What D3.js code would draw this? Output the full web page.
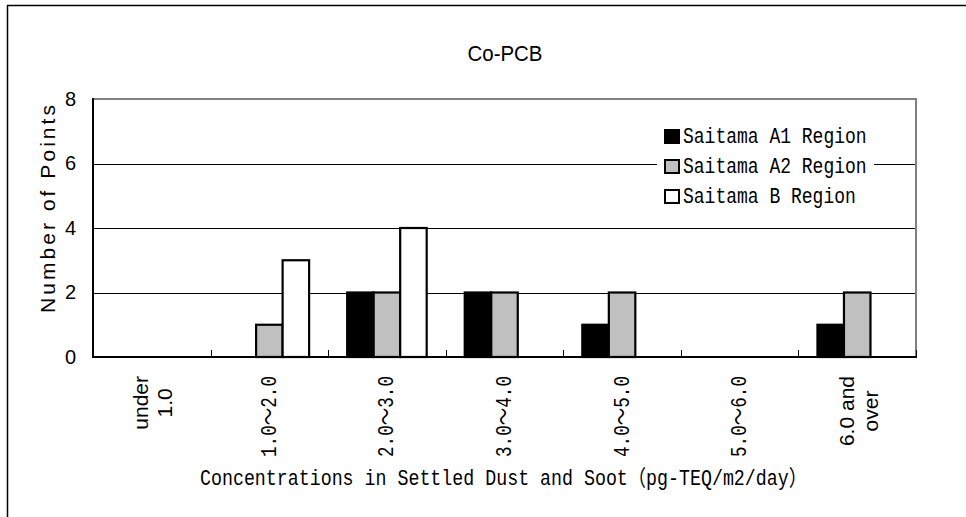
<!DOCTYPE html>
<html>
<head>
<meta charset="utf-8">
<script src="https://cdn.jsdelivr.net/npm/d3@7"></script>
<style>
  html, body { margin: 0; padding: 0; background: #fff; }
  svg { display: block; }
</style>
</head>
<body>
<script>
// ---- data ----
const categories = ["under\n1.0", "1.0～2.0", "2.0～3.0", "3.0～4.0", "4.0～5.0", "5.0～6.0", "6.0 and\nover"];
const seriesNames = ["Saitama A1 Region", "Saitama A2 Region", "Saitama B Region"];
const seriesA1 = [0, 0, 2, 2, 1, 0, 1];
const seriesA2 = [0, 1, 2, 2, 2, 0, 2];
const seriesB  = [0, 3, 4, 0, 0, 0, 0];
const yTicks = [0, 2, 4, 6, 8];
const titleText = "Co-PCB";
const yTitle = "Number of Points";
const xTitle = "Concentrations in Settled Dust and Soot（pg-TEQ/m2/day）";

const seriesValues = [seriesA1, seriesA2, seriesB];
const seriesFill = ["#000000", "#c0c0c0", "#ffffff"];

const W = 966, H = 517;
const L = 93, R = 916, T = 99, B = 357;
const SANS = "Liberation Sans, Arial, 'Noto Sans CJK JP', sans-serif";
const MONO = "Liberation Mono, 'DejaVu Sans Mono', 'Noto Sans CJK JP', monospace";

const svg = d3.select("body").append("svg").attr("width", W).attr("height", H);

// outer frame
svg.append("rect").attr("x", 7.5).attr("y", 5.5).attr("width", 1000).attr("height", 600)
  .attr("fill", "none").attr("stroke", "#000").attr("stroke-width", 1.5);

const x0 = d3.scaleBand().domain(categories).range([L, R]).paddingInner(0).paddingOuter(0);
const x1 = d3.scaleBand().domain(seriesNames).range([0, x0.bandwidth()]).paddingInner(0).paddingOuter(0.718);
const y = d3.scaleLinear().domain([0, 8]).range([B, T]);

// gridlines
svg.append("g").selectAll("line").data(yTicks.filter(d => d > 0 && d < 8)).join("line")
  .attr("x1", L).attr("x2", R).attr("y1", d => Math.round(y(d)) + 0.5).attr("y2", d => Math.round(y(d)) + 0.5)
  .attr("stroke", "#000").attr("stroke-width", 1);

// y axis labels
const yAxis = d3.axisLeft(y).tickValues(yTicks).tickSize(0).tickPadding(17).tickFormat(d3.format("d"));
const yg = svg.append("g").attr("transform", `translate(${L},0)`).call(yAxis);
yg.select(".domain").remove();
yg.selectAll("text").attr("font-family", SANS).attr("font-size", 20).attr("fill", "#000");

// legend background (covers gridline)
svg.append("rect").attr("x", 657).attr("y", 120).attr("width", 217).attr("height", 92).attr("fill", "#fff");

// bars
const rows = [];
categories.forEach((c, i) => {
  seriesNames.forEach((s, j) => {
    rows.push({c, s, j, v: seriesValues[j][i]});
  });
});
svg.append("g").selectAll("rect").data(rows.filter(d => d.v > 0)).join("rect")
  .attr("x", d => x0(d.c) + x1(d.s))
  .attr("y", d => y(d.v))
  .attr("width", x1.bandwidth())
  .attr("height", d => y(0) - y(d.v))
  .attr("fill", d => seriesFill[d.j])
  .attr("stroke", "#000").attr("stroke-width", 2.2);

// plot frame: gray top & right
svg.append("line").attr("x1", L).attr("x2", R + 1).attr("y1", T).attr("y2", T)
  .attr("stroke", "#808080").attr("stroke-width", 2);
svg.append("line").attr("x1", R).attr("x2", R).attr("y1", T).attr("y2", B)
  .attr("stroke", "#808080").attr("stroke-width", 2);

// left axis & bottom axis (black)
svg.append("line").attr("x1", L).attr("x2", L).attr("y1", T - 1).attr("y2", B + 1)
  .attr("stroke", "#000").attr("stroke-width", 2);
svg.append("line").attr("x1", L).attr("x2", R + 1).attr("y1", B).attr("y2", B)
  .attr("stroke", "#000").attr("stroke-width", 2);
// bottom ticks at category boundaries (pointing up)
const bounds = categories.slice(1).map(c => x0(c)).concat([R]);
svg.append("g").selectAll("line").data(bounds).join("line")
  .attr("x1", d => Math.round(d) + 0.5).attr("x2", d => Math.round(d) + 0.5)
  .attr("y1", B).attr("y2", B - 7)
  .attr("stroke", "#000").attr("stroke-width", 1);

// x category labels (rotated)
categories.forEach(c => {
  const lines = c.split("\n");
  const multi = lines.length > 1;
  const g = svg.append("g")
    .attr("transform", `translate(${x0(c) + x0.bandwidth() / 2},376) rotate(-90)`);
  const ts = lines.map((ln, i) => {
    const t = g.append("text")
      .attr("y", (i - (lines.length - 1) / 2) * 24 + 1)
      .attr("dominant-baseline", "central")
      .attr("text-anchor", "middle")
      .attr("font-family", multi ? SANS : MONO)
      .attr("font-size", multi ? 21 : 22).attr("fill", "#000")
      .text(ln);
    if (!multi) t.attr("textLength", 81).attr("lengthAdjust", "spacingAndGlyphs");
    return t;
  });
  const maxLen = d3.max(ts, t => t.node().getComputedTextLength());
  ts.forEach(t => t.attr("x", -maxLen / 2));
});

// title
svg.append("text").attr("x", 505).attr("y", 61).attr("text-anchor", "middle")
  .attr("font-family", SANS).attr("font-size", 22).attr("fill", "#000")
  .attr("textLength", 75).attr("lengthAdjust", "spacingAndGlyphs")
  .text(titleText);

// y title
svg.append("text").attr("transform", "translate(47,209) rotate(-90)")
  .attr("text-anchor", "middle").attr("dominant-baseline", "central")
  .attr("font-family", SANS).attr("font-size", 21).attr("fill", "#000")
  .attr("textLength", 208).attr("lengthAdjust", "spacing")
  .text(yTitle);

// x title
svg.append("text").attr("x", 200).attr("y", 485)
  .attr("font-family", MONO)
  .attr("font-size", 22).attr("fill", "#000")
  .attr("textLength", 607).attr("lengthAdjust", "spacingAndGlyphs")
  .text(xTitle);

// legend
const lg = svg.append("g");
seriesNames.forEach((s, j) => {
  const base = 143 + j * 30;
  lg.append("rect").attr("x", 665).attr("y", base - 13).attr("width", 14).attr("height", 13)
    .attr("fill", seriesFill[j]).attr("stroke", "#000").attr("stroke-width", 2);
  lg.append("text").attr("x", 683).attr("y", base)
    .attr("font-family", MONO)
    .attr("font-size", 22).attr("fill", "#000")
    .attr("textLength", s.length * 10.8).attr("lengthAdjust", "spacingAndGlyphs")
    .text(s);
});
</script>
</body>
</html>
